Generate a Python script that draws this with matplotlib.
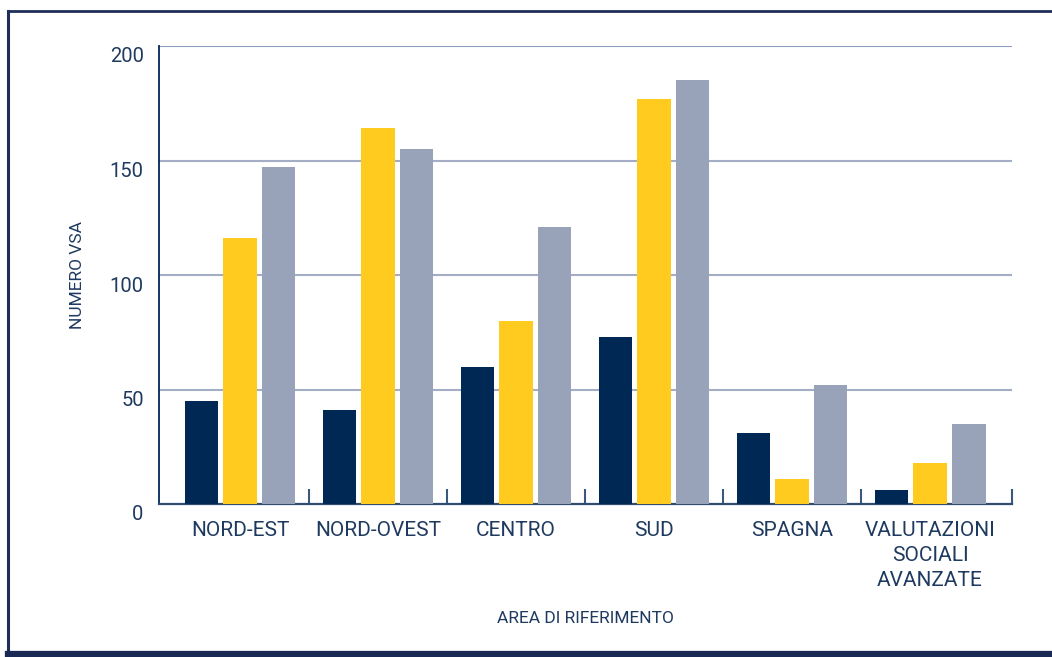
import matplotlib.pyplot as plt
import matplotlib.transforms as mtransforms
from matplotlib.lines import Line2D
import numpy as np

areas = ["NORD-EST", "NORD-OVEST", "CENTRO", "SUD", "SPAGNA", "VALUTAZIONI\nSOCIALI\nAVANZATE"]
serie_1 = [45, 41, 60, 73, 31, 6]
serie_2 = [116, 164, 80, 177, 11, 18]
serie_3 = [147, 155, 121, 185, 52, 35]
y_ticks = [0, 50, 100, 150, 200]

NAVY = "#002855"
YELLOW = "#ffcb1f"
GREY = "#98a2b9"
TEXT = "#1f3a5f"

plt.rcParams["font.family"] = ["Roboto", "DejaVu Sans"]

fig = plt.figure(figsize=(10.52, 6.57), dpi=100)
ax = fig.add_axes([159 / 1052, 1 - 504 / 657, 853 / 1052, 458 / 657])

x = np.arange(len(areas))
w = 0.246
off = 0.279
ax.bar(x - off, serie_1, w, color=NAVY, zorder=3)
ax.bar(x, serie_2, w, color=YELLOW, zorder=3)
ax.bar(x + off, serie_3, w, color=GREY, zorder=3)

ax.set_xlim(-0.587, 5.594)
ax.set_ylim(0, 200)
ax.set_yticks(y_ticks)
ax.set_yticklabels([str(v) for v in y_ticks], fontsize=14.5, color=TEXT)
ax.tick_params(axis="y", length=0, pad=11)
shift = mtransforms.ScaledTranslation(0, -9 / 100, fig.dpi_scale_trans)
for lab in ax.get_yticklabels():
    lab.set_transform(lab.get_transform() + shift)

ax.set_xticks(x)
ax.set_xticklabels(areas, fontsize=15, color=TEXT, linespacing=1.4, va="top")
ax.tick_params(axis="x", length=0, pad=12)
ax.set_xticks([0.5, 1.5, 2.5, 3.5, 4.5, 5.594], minor=True)
ax.tick_params(axis="x", which="minor", direction="in", length=11, width=1.5, color="#3a5a7c")

for v in y_ticks[1:]:
    ax.axhline(v, color="#a3adc6" if v < 200 else "#8c9cc0", lw=1.5, zorder=1)

for s in ["top", "right"]:
    ax.spines[s].set_visible(False)
ax.spines["left"].set_color(NAVY)
ax.spines["left"].set_linewidth(1.3)
ax.spines["bottom"].set_color("#2f4d70")
ax.spines["bottom"].set_linewidth(1.6)

ax.set_ylabel("NUMERO VSA", fontsize=12.5, color=TEXT, va="center")
ax.yaxis.set_label_coords(-0.095, 0.5)
ax.set_xlabel("AREA DI RIFERIMENTO", fontsize=12.5, color=TEXT, va="center")
ax.xaxis.set_label_coords(0.5, -0.251)

# page frame
fig.add_artist(Line2D([8 / 1052, 8 / 1052], [1 - 11 / 657, 1 - 654 / 657], color="#1f2f5a", lw=2.2))
fig.add_artist(Line2D([8 / 1052, 1], [1 - 11 / 657, 1 - 11 / 657], color="#1f2f5a", lw=2.0))
fig.add_artist(Line2D([8 / 1052, 1], [1 - 654 / 657, 1 - 654 / 657], color="#1a2a55", lw=4.5))

fig.savefig("out.png", dpi=100)
